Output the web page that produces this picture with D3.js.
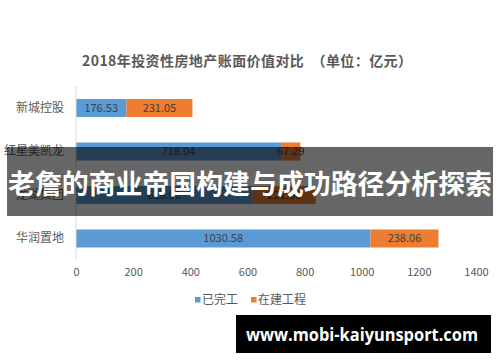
<!DOCTYPE html>
<html>
<head>
<meta charset="utf-8">
<script src="https://cdn.jsdelivr.net/npm/d3@7"></script>
<style>
  html, body { margin: 0; padding: 0; background: #fff; }
  svg { display: block; }
</style>
</head>
<body>
<script>
const categories = ["新城控股", "红星美凯龙", "龙湖集团", "华润置地"];
const completed = [176.53, 718.04, 618.00, 1030.58];
const underConstruction = [231.05, 67.29, 221.00, 238.06];
const seriesNames = ["已完工", "在建工程"];
const xTicks = [0, 200, 400, 600, 800, 1000, 1200, 1400];
const titleText = "2018年投资性房地产账面价值对比  （单位：亿元）";
const bannerText = "老詹的商业帝国构建与成功路径分析探索";
const urlText = "www.mobi-kaiyunsport.com";

const W = 500, H = 362;
const colors = ["#5B9BD5", "#ED7D31"];
const font = "'Noto Sans CJK SC', 'Noto Sans', sans-serif";

const svg = d3.select("body").append("svg").attr("width", W).attr("height", H);

const x = d3.scaleLinear().domain([0, 1400]).range([76, 476]);
const y = d3.scaleBand().domain(categories).range([86.25, 260.25]).paddingInner(0.586).paddingOuter(0.293);

// title
svg.append("text").attr("x", 247).attr("y", 61).attr("dy", "0.36em").attr("text-anchor", "middle")
  .attr("font-family", font).attr("font-size", 14).attr("font-weight", "bold")
  .attr("fill", "#595959").attr("textLength", 330).attr("lengthAdjust", "spacing")
  .style("white-space", "pre").text(titleText);

// stacked data
const rows = categories.map((c, i) => ({ c, v: [completed[i], underConstruction[i]] }));
rows.forEach(r => {
  let acc = 0;
  r.segs = r.v.map((v, k) => { const s = { k, x0: acc, x1: acc + v, v }; acc += v; return s; });
});

const g = svg.append("g");
rows.forEach(r => {
  r.segs.forEach(s => {
    g.append("rect").attr("x", x(s.x0)).attr("y", y(r.c))
      .attr("width", x(s.x1) - x(s.x0)).attr("height", y.bandwidth())
      .attr("fill", colors[s.k]);
    g.append("text").attr("x", (x(s.x0) + x(s.x1)) / 2).attr("y", y(r.c) + y.bandwidth() / 2)
      .attr("dy", "0.36em").attr("text-anchor", "middle")
      .attr("font-family", font).attr("font-size", 11).attr("fill", "#404040")
      .text(d3.format(".2f")(s.v));
  });
});

// vertical axis line
svg.append("line").attr("x1", 76).attr("x2", 76).attr("y1", 86).attr("y2", 260)
  .attr("stroke", "#d9d9d9").attr("stroke-width", 1);

// category labels
const yAxis = svg.append("g").attr("transform", "translate(76,0)")
  .call(d3.axisLeft(y).tickSize(0).tickPadding(12));
yAxis.select(".domain").remove();
yAxis.selectAll("text").attr("font-family", font).attr("font-size", 12).attr("fill", "#595959");

// x axis ticks
const xAxis = svg.append("g").attr("transform", "translate(0,268)")
  .call(d3.axisBottom(x).tickValues(xTicks).tickSize(0).tickPadding(0).tickFormat(d3.format("d")));
xAxis.select(".domain").remove();
xAxis.selectAll("text").attr("font-family", font).attr("font-size", 11).attr("fill", "#595959");

// legend
const legendItems = [{ x: 195, i: 0 }, { x: 251, i: 1 }];
legendItems.forEach(it => {
  svg.append("rect").attr("x", it.x).attr("y", 297).attr("width", 5.5).attr("height", 5.5).attr("fill", colors[it.i]);
  svg.append("text").attr("x", it.x + 7).attr("y", 300).attr("dy", "0.36em")
    .attr("font-family", font).attr("font-size", 12).attr("fill", "#595959").text(seriesNames[it.i]);
});

// banner overlay
svg.append("rect").attr("x", 7).attr("y", 147).attr("width", 486).attr("height", 69)
  .attr("fill", "#000").attr("fill-opacity", 0.6);
svg.append("text").attr("x", 250).attr("y", 184).attr("dy", "0.36em").attr("text-anchor", "middle")
  .attr("font-family", font).attr("font-size", 27).attr("font-weight", "bold")
  .attr("fill", "#fff").attr("textLength", 484).attr("lengthAdjust", "spacingAndGlyphs")
  .text(bannerText);

// url box
svg.append("rect").attr("x", 236).attr("y", 315).attr("width", 255).attr("height", 38).attr("fill", "#000");
svg.append("text").attr("x", 362).attr("y", 335).attr("dy", "0.36em").attr("text-anchor", "middle")
  .attr("font-family", "'Open Sans', 'DejaVu Sans', sans-serif").attr("font-size", 17).attr("font-weight", "bold")
  .attr("fill", "#fff").attr("textLength", 232).attr("lengthAdjust", "spacingAndGlyphs")
  .text(urlText);
</script>
</body>
</html>
